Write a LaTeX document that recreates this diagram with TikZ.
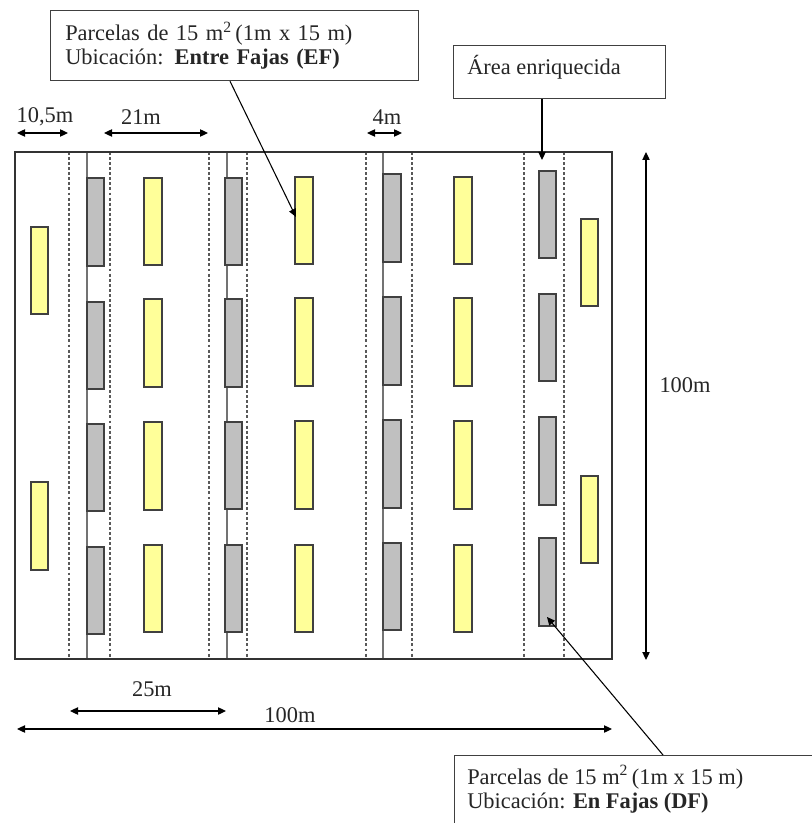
\documentclass[tikz,border=0pt]{standalone}
\usepackage{fontspec}
\setmainfont{Liberation Serif}
\usetikzlibrary{arrows.meta,calc}
\definecolor{plotyellow}{HTML}{FFFF99}
\definecolor{plotgray}{HTML}{C0C0C0}
\definecolor{edgegray}{HTML}{404040}
\begin{document}
\begin{tikzpicture}[x=0.75pt,y=-0.75pt,
  font=\fontsize{16.8}{18}\selectfont,
  yplot/.style={draw=edgegray, fill=plotyellow, line width=0.8pt},
  gplot/.style={draw=edgegray, fill=plotgray, line width=0.8pt},
  guide/.style={draw=black!65, dash pattern=on 2.2pt off 1.6pt, line width=0.8pt},
  stripline/.style={draw=black!55, line width=1.1pt},
  dimarrow/.style={{Triangle[length=6pt,width=5.5pt]}-{Triangle[length=6pt,width=5.5pt]}, line width=0.9pt},
  pointer/.style={-{Triangle[length=6pt,width=5.5pt]}, line width=0.8pt},
  labelbox/.style={draw=edgegray, line width=0.9pt, fill=white},
  txt/.style={inner sep=0pt, text=black!85}
]
\useasboundingbox (0,0) rectangle (812,823);
\clip (0,0) rectangle (812,823);

% guide (dashed) lines
\foreach \gx in {69,110,209,247,366,412,524,564}
  \draw[guide] (\gx,152) -- (\gx,659);
% strip lines
\foreach \sx in {87,227,383}
  \draw[stripline] (\sx,152) -- (\sx,659);

% gray plots (in strips)
\foreach \ya/\yb in {178/266,302/389,424/511,547/634}
  \draw[gplot] (87,\ya) rectangle (104,\yb);
\foreach \ya/\yb in {178/265,299/387,422/509,545/632}
  \draw[gplot] (225,\ya) rectangle (242,\yb);
\foreach \ya/\yb in {174/262,297/385,420/508,543/630}
  \draw[gplot] (383,\ya) rectangle (401,\yb);
\foreach \ya/\yb in {171/258,294/381,417/505,538/626}
  \draw[gplot] (539,\ya) rectangle (556,\yb);

% yellow plots (between strips)
\foreach \ya/\yb in {227/314,482/570}
  \draw[yplot] (31,\ya) rectangle (48,\yb);
\foreach \ya/\yb in {178/265,299/387,422/510,545/632}
  \draw[yplot] (144,\ya) rectangle (162,\yb);
\foreach \ya/\yb in {177/264,298/386,421/509,545/632}
  \draw[yplot] (295,\ya) rectangle (313,\yb);
\foreach \ya/\yb in {177/264,298/386,421/509,545/632}
  \draw[yplot] (454,\ya) rectangle (472,\yb);
\foreach \ya/\yb in {219/306,476/563}
  \draw[yplot] (581,\ya) rectangle (598,\yb);

% main plot border
\draw[draw=black!80, line width=1.6pt] (15,152) rectangle (612,659);

% targets of the pointers
\coordinate (eftarget) at (296,217);
\coordinate (aetarget) at (542,160);
\coordinate (dftarget) at (547,617);

% top dimension arrows
\coordinate (d1a) at (17,133); \coordinate (d1b) at (68,133);
\coordinate (d2a) at (104,133); \coordinate (d2b) at (208,133);
\coordinate (d3a) at (367,133); \coordinate (d3b) at (402,133);
\draw[dimarrow] (d1a) -- (d1b);
\draw[dimarrow] (d2a) -- (d2b);
\draw[dimarrow] (d3a) -- (d3b);
\node[txt] (l105) at (45,117) {10,5m};
\node[txt] (l21) at (141,117) {21m};
\node[txt] (l4) at (387,117) {4m};

% bottom dimension arrows
\coordinate (d4a) at (70,711); \coordinate (d4b) at (226,711);
\coordinate (d5a) at (17,729); \coordinate (d5b) at (612,729);
\draw[dimarrow] (d4a) -- (d4b);
\draw[dimarrow] (d5a) -- (d5b);
\node[txt] (l25) at (152,689) {25m};
\node[txt] (l100b) at (290,715) {100m};

% right vertical dimension
\coordinate (d6a) at (646,152); \coordinate (d6b) at (646,660);
\draw[dimarrow] (d6a) -- (d6b);
\node[txt] (l100r) at (685,385) {100m};

% label boxes
\node[labelbox, anchor=north west, minimum width=276pt, minimum height=52.5pt,
      text width=254pt, inner xsep=11pt, align=left, text=black!85] (efbox) at (50,10)
  {Parcelas de 15 m\textsuperscript{2}\,(1m x 15 m)\\Ubicación: \textbf{Entre Fajas (EF)}};
\node[labelbox, anchor=north west, minimum width=159pt, minimum height=39.75pt] (aebox) at (453,45) {};
\node[txt, anchor=west] (aetext) at (467,67) {Área enriquecida};
\node[labelbox, anchor=north west, minimum width=300pt, minimum height=80pt] (dfbox) at (454,755) {};
\node[txt, anchor=north west, align=left] (dftext) at (467,765)
  {Parcelas de 15 m\textsuperscript{2}\,(1m x 15 m)\\Ubicación: \textbf{En Fajas (DF)}};

% pointers
\draw[pointer] ($(efbox.south west)+(180,0)$) -- (eftarget);
\draw[pointer] ($(aebox.south west)+(89,0)$) -- (aetarget);
\draw[pointer] ($(dfbox.north west)+(209,0)$) -- (dftarget);
\end{tikzpicture}
\end{document}
